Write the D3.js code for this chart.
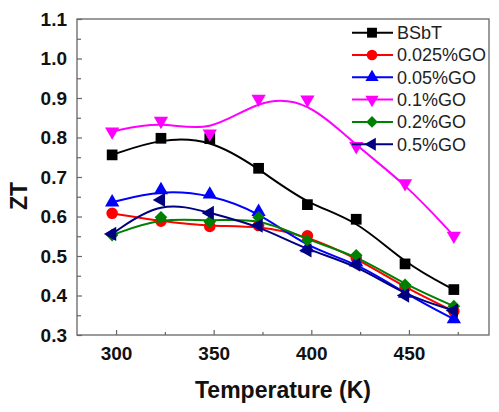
<!DOCTYPE html>
<html><head><meta charset="utf-8">
<script src="https://cdn.jsdelivr.net/npm/d3@7"></script>
<style>html,body{margin:0;padding:0;background:#fff;}svg{display:block;}</style>
</head><body>
<script>
const temperatures = [298, 323, 348, 373, 398, 423, 448, 473];
const seriesNames = ["BSbT", "0.025%GO", "0.05%GO", "0.1%GO", "0.2%GO", "0.5%GO"];
const bsbt   = [0.756, 0.798, 0.797, 0.722, 0.630, 0.593, 0.480, 0.415];
const go0025 = [0.608, 0.588, 0.575, 0.577, 0.551, 0.495, 0.420, 0.360];
const go005  = [0.636, 0.667, 0.656, 0.612, 0.520, 0.484, 0.405, 0.340];
const go01   = [0.815, 0.842, 0.810, 0.898, 0.896, 0.778, 0.684, 0.551];
const go02   = [0.553, 0.598, 0.587, 0.598, 0.540, 0.502, 0.427, 0.373];
const go05   = [0.556, 0.642, 0.609, 0.577, 0.514, 0.478, 0.400, 0.362];
const xTicks = [300, 350, 400, 450];
const yTicks = [0.3, 0.4, 0.5, 0.6, 0.7, 0.8, 0.9, 1.0, 1.1];

const W = 499, H = 412;
const L = 77, R = 489, T = 19, B = 335;
const svg = d3.select("body").append("svg").attr("width", W).attr("height", H);

const x = d3.scaleLinear().domain([280, 491]).range([L, R]);
const y = d3.scaleLinear().domain([0.3, 1.1]).range([B, T]);

const colors = ["#000000", "#ff0000", "#0000ff", "#ff00ff", "#008000", "#000080"];
const values = [bsbt, go0025, go005, go01, go02, go05];
const markers = [
  {type: d3.symbolSquare, size: 115, rot: 0},
  {type: d3.symbolCircle, size: 105, rot: 0},
  {type: d3.symbolTriangle, size: 88, rot: 0},
  {type: d3.symbolTriangle, size: 88, rot: 180},
  {type: d3.symbolSquare, size: 80, rot: 45},
  {type: d3.symbolTriangle, size: 88, rot: -90}
];

const axisColor = "#666";
svg.append("rect").attr("x", L).attr("y", T).attr("width", R - L).attr("height", B - T)
  .attr("fill", "none").attr("stroke", axisColor).attr("stroke-width", 1.3);

const fontFam = "'Liberation Sans', Arial, sans-serif";
const xAxis = svg.append("g").attr("transform", `translate(0,${B})`)
  .call(d3.axisBottom(x).tickValues(xTicks).tickSize(-5).tickPadding(12).tickFormat(d3.format("d")));
const xMinor = svg.append("g").attr("transform", `translate(0,${B})`)
  .call(d3.axisBottom(x).tickValues([325, 375, 425, 475]).tickSize(-3).tickFormat(""));
const yAxis = svg.append("g").attr("transform", `translate(${L},0)`)
  .call(d3.axisLeft(y).tickValues(yTicks).tickSize(-5).tickPadding(10).tickFormat(d3.format(".1f")));
const yMinor = svg.append("g").attr("transform", `translate(${L},0)`)
  .call(d3.axisLeft(y).tickValues([0.35, 0.45, 0.55, 0.65, 0.75, 0.85, 0.95, 1.05]).tickSize(-4).tickFormat(""));
[xAxis, xMinor, yAxis, yMinor].forEach(g => {
  g.select(".domain").remove();
  g.selectAll("line").attr("stroke", axisColor).attr("stroke-width", 1.2);
  g.selectAll("text").attr("font-family", fontFam).attr("font-size", 19).attr("font-weight", "bold").attr("fill", "#111");
});

svg.append("text").attr("x", 283).attr("y", 398).attr("text-anchor", "middle")
  .attr("font-family", fontFam).attr("font-size", 23).attr("font-weight", "bold").attr("fill", "#111")
  .text("Temperature (K)");
svg.append("text").attr("transform", "translate(27,196) rotate(-90)").attr("text-anchor", "middle")
  .attr("font-family", fontFam).attr("font-size", 23).attr("font-weight", "bold").attr("fill", "#111")
  .text("ZT");

const line = d3.line().x(d => x(d[0])).y(d => y(d[1])).curve(d3.curveBasis);
values.forEach((vals, i) => {
  const pts = temperatures.map((t, j) => [t, vals[j]]);
  const g = svg.append("g");
  g.append("path").attr("d", line(pts)).attr("fill", "none").attr("stroke", colors[i]).attr("stroke-width", 2);
  const sym = d3.symbol().type(markers[i].type).size(markers[i].size);
  g.selectAll("path.m").data(pts).enter().append("path").attr("class", "m")
    .attr("d", sym)
    .attr("transform", d => `translate(${x(d[0])},${y(d[1])}) rotate(${markers[i].rot})`)
    .attr("fill", colors[i]);
});

const lg = svg.append("g");
seriesNames.forEach((name, i) => {
  const yy = 32.7 + i * 22.3;
  lg.append("line").attr("x1", 352).attr("x2", 393).attr("y1", yy).attr("y2", yy)
    .attr("stroke", colors[i]).attr("stroke-width", 2);
  lg.append("path").attr("d", d3.symbol().type(markers[i].type).size(markers[i].size * 0.85)())
    .attr("transform", `translate(372,${yy}) rotate(${markers[i].rot})`).attr("fill", colors[i]);
  lg.append("text").attr("x", 397).attr("y", yy).attr("dy", "0.36em")
    .attr("font-family", fontFam).attr("font-size", 18).attr("fill", "#222").text(name);
});
</script>
</body></html>
